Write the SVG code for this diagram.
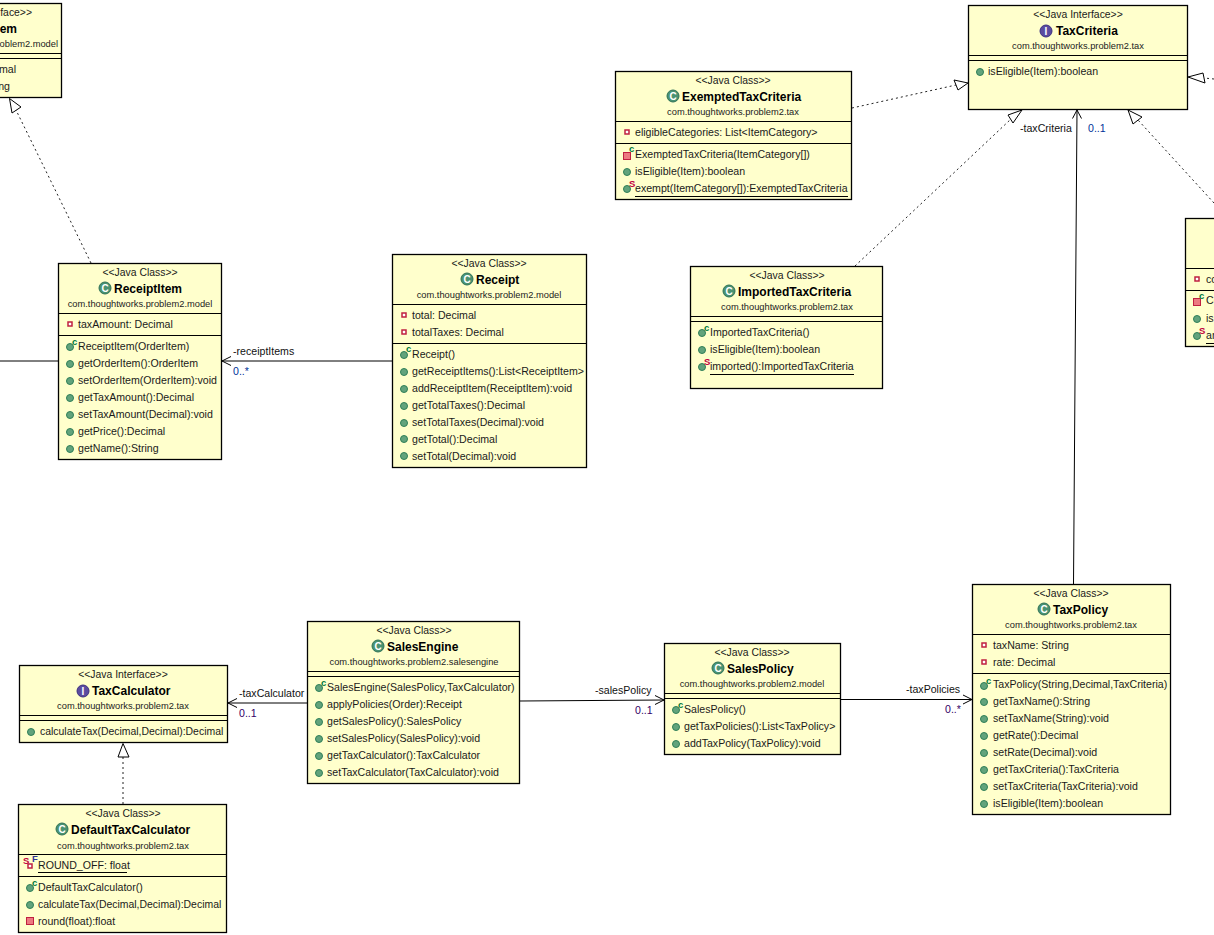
<svg xmlns="http://www.w3.org/2000/svg" width="1214" height="935" viewBox="0 0 1214 935">
<style>
text{font-family:"Liberation Sans",Arial,sans-serif;font-size:10.6px;fill:#1a1a1a}
.box{fill:#ffffcc;stroke:#000;stroke-width:1.3}
.sep{stroke:#000;stroke-width:1;fill:none}
.st{text-anchor:middle;font-size:10.4px}
.nm{font-weight:bold;font-size:12px;fill:#000}
.pk{text-anchor:middle;font-size:9.3px;fill:#222}
.e{text-anchor:end}
.n{font-size:10.45px}
.lb{fill:#111}
.ml{fill:#003399}
.mm{fill:#330066}
.sc{font-size:9.5px;font-weight:bold;fill:#007a3d}
.ss{font-size:9.5px;font-weight:bold;fill:#c00040}
.sf{font-size:9.5px;font-weight:bold;fill:#333399}
.u{stroke:#000;stroke-width:1;fill:none}
.assoc{stroke:#000;stroke-width:1;fill:none}
.dash{stroke:#222;stroke-width:1;stroke-dasharray:2 3;fill:none}
.tri{stroke:#000;stroke-width:1;fill:#fff}
.cl{fill:#4a9272;stroke:#2f7257;stroke-width:1}
.ic{fill:#5b4ba0;stroke:#3d3080;stroke-width:1}
.il{font-size:10px;font-weight:bold;fill:#fff;text-anchor:middle}
.pub{fill:#62a37c;stroke:#2f7f58;stroke-width:1}
.prv{fill:#ec7a80;stroke:#c02040;stroke-width:1}
.pf{fill:#fff;stroke:#c02040;stroke-width:1.5}
</style>
<defs>
<circle id="m" class="pub" r="3.5"/>
<rect id="pm" class="prv" x="-3.5" y="-3.5" width="7" height="7"/>
<rect id="pa" class="pf" x="-2" y="-2" width="4" height="4"/>
</defs>

<g id="connectors">
<path class="dash" d="M91 263L16 110"/><path class="tri" d="M9.500 98.500L21 107L12 113Z"/>
<path class="dash" d="M852 108L956 85"/><path class="tri" d="M968 83L954 80L958 90Z"/>
<path class="dash" d="M855 266L1011 119"/><path class="tri" d="M1022 110L1008 115L1013 123Z"/>
<path class="dash" d="M1214 203L1138 120"/><path class="tri" d="M1128 110L1142 117L1133 124Z"/>
<path class="dash" d="M1214 79L1204 78"/><path class="tri" d="M1188 77L1203 73L1205 83Z"/>
<path class="dash" d="M123 804V757"/><path class="tri" d="M123 743.500L118 757H129Z"/>
<path class="assoc" d="M392 361H222M231 356.500L222 361L231 365.500"/>
<path class="assoc" d="M0 361H58"/>
<path class="assoc" d="M1073.500 584L1077 110M1072.500 118.500L1077 110L1081.500 118.500"/>
<path class="assoc" d="M307 703H228M237 698.500L228 703L237 707.500"/>
<path class="assoc" d="M520 701L664 700M655 695.500L664 700L655 704.500"/>
<path class="assoc" d="M841 699.500H972M963 695L972 699.500L963 704"/>
<text class="lb" x="233" y="355">-receiptItems</text><text class="ml" x="233" y="375">0..*</text>
<text class="lb" x="1020" y="132">-taxCriteria</text><text class="ml" x="1088" y="132">0..1</text>
<text class="lb" x="239" y="697">-taxCalculator</text><text class="mm" x="239" y="717">0..1</text>
<text class="lb" x="595" y="694">-salesPolicy</text><text class="mm" x="635" y="714">0..1</text>
<text class="lb" x="906" y="693">-taxPolicies</text><text class="mm" x="945" y="713">0..*</text>
</g>

<g id="Item">
<rect class="box" x="-20" y="3.500" width="81.500" height="94"/>
<path class="sep" d="M0 53.500H61M0 58.500H61"/>
<text class="st e" x="32" y="16">face&gt;&gt;</text>
<text class="nm e" x="17" y="33">em</text>
<text class="pk e" x="58" y="47">oblem2.model</text>
<text class="e" x="16" y="73">mal</text>
<text class="e" x="10" y="90">ng</text>
</g>

<g id="ReceiptItem">
<rect class="box" x="58.500" y="263.500" width="163" height="196"/>
<path class="sep" d="M58 313.500H221M58 335.500H221"/>
<text class="st" x="140" y="276">&lt;&lt;Java Class&gt;&gt;</text>
<circle class="cl" cx="105" cy="288" r="6"/><text class="il" x="105" y="292">C</text>
<text class="nm" x="114" y="293">ReceiptItem</text>
<text class="pk" x="140" y="307">com.thoughtworks.problem2.model</text>
<use href="#pa" x="70" y="324"/><text x="78" y="328">taxAmount: Decimal</text>
<use href="#m" x="70" y="347"/><text class="sc" x="72" y="345">c</text><text x="78" y="350">ReceiptItem(OrderItem)</text>
<use href="#m" x="70" y="364"/><text x="78" y="367">getOrderItem():OrderItem</text>
<use href="#m" x="70" y="381"/><text x="78" y="384">setOrderItem(OrderItem):void</text>
<use href="#m" x="70" y="398"/><text x="78" y="401">getTaxAmount():Decimal</text>
<use href="#m" x="70" y="415"/><text x="78" y="418">setTaxAmount(Decimal):void</text>
<use href="#m" x="70" y="432"/><text x="78" y="435">getPrice():Decimal</text>
<use href="#m" x="70" y="449"/><text x="78" y="452">getName():String</text>
</g>

<g id="Receipt">
<rect class="box" x="392.500" y="254.500" width="194" height="213"/>
<path class="sep" d="M392 304.500H586M392 343.500H586"/>
<text class="st" x="489" y="267">&lt;&lt;Java Class&gt;&gt;</text>
<circle class="cl" cx="467" cy="279" r="6"/><text class="il" x="467" y="283">C</text>
<text class="nm" x="476" y="284">Receipt</text>
<text class="pk" x="489" y="298">com.thoughtworks.problem2.model</text>
<use href="#pa" x="404" y="315"/><text x="412" y="319">total: Decimal</text>
<use href="#pa" x="404" y="332"/><text x="412" y="336">totalTaxes: Decimal</text>
<use href="#m" x="404" y="355"/><text class="sc" x="406" y="352">c</text><text x="412" y="358">Receipt()</text>
<use href="#m" x="404" y="372"/><text x="412" y="375">getReceiptItems():List&lt;ReceiptItem&gt;</text>
<use href="#m" x="404" y="389"/><text x="412" y="392">addReceiptItem(ReceiptItem):void</text>
<use href="#m" x="404" y="406"/><text x="412" y="409">getTotalTaxes():Decimal</text>
<use href="#m" x="404" y="423"/><text x="412" y="426">setTotalTaxes(Decimal):void</text>
<use href="#m" x="404" y="439"/><text x="412" y="443">getTotal():Decimal</text>
<use href="#m" x="404" y="456"/><text x="412" y="460">setTotal(Decimal):void</text>
</g>

<g id="ExemptedTaxCriteria">
<rect class="box" x="615.500" y="71.500" width="236" height="128"/>
<path class="sep" d="M615 121.500H851M615 143.500H851"/>
<text class="st" x="733" y="84">&lt;&lt;Java Class&gt;&gt;</text>
<circle class="cl" cx="673" cy="96" r="6"/><text class="il" x="673" y="100">C</text>
<text class="nm" x="682" y="101">ExemptedTaxCriteria</text>
<text class="pk" x="733" y="115">com.thoughtworks.problem2.tax</text>
<use href="#pa" x="627" y="132"/><text x="635" y="136">eligibleCategories: List&lt;ItemCategory&gt;</text>
<use href="#pm" x="627" y="156"/><text class="sc" x="629" y="152">c</text><text x="635" y="158">ExemptedTaxCriteria(ItemCategory[])</text>
<use href="#m" x="627" y="172"/><text x="635" y="175">isEligible(Item):boolean</text>
<use href="#m" x="627" y="189"/><text class="ss" x="629" y="187">S</text><text x="635" y="192">exempt(ItemCategory[]):ExemptedTaxCriteria</text>
<path class="u" d="M635 196.500H848"/>
</g>

<g id="TaxCriteria">
<rect class="box" x="968.500" y="5.500" width="219" height="104"/>
<path class="sep" d="M968 55.500H1187M968 60.500H1187"/>
<text class="st" x="1078" y="18">&lt;&lt;Java Interface&gt;&gt;</text>
<circle class="ic" cx="1046" cy="31" r="6"/><text class="il" x="1046" y="35">I</text>
<text class="nm" x="1056" y="35">TaxCriteria</text>
<text class="pk" x="1078" y="49">com.thoughtworks.problem2.tax</text>
<use href="#m" x="980" y="72"/><text x="988" y="75">isEligible(Item):boolean</text>
</g>

<g id="ImportedTaxCriteria">
<rect class="box" x="690.500" y="266.500" width="192" height="122"/>
<path class="sep" d="M690 316.500H882M690 321.500H882"/>
<text class="st" x="787" y="279">&lt;&lt;Java Class&gt;&gt;</text>
<circle class="cl" cx="729" cy="291" r="6"/><text class="il" x="729" y="295">C</text>
<text class="nm" x="738" y="296">ImportedTaxCriteria</text>
<text class="pk" x="787" y="310">com.thoughtworks.problem2.tax</text>
<use href="#m" x="702" y="333"/><text class="sc" x="704" y="331">c</text><text x="710" y="336">ImportedTaxCriteria()</text>
<use href="#m" x="702" y="350"/><text x="710" y="353">isEligible(Item):boolean</text>
<use href="#m" x="702" y="367"/><text class="ss" x="704" y="365">S</text><text x="710" y="370">imported():ImportedTaxCriteria</text>
<path class="u" d="M710 374.500H854"/>
</g>

<g id="CutCriteria">
<rect class="box" x="1185.500" y="218.500" width="40" height="128"/>
<path class="sep" d="M1185 268.500H1214M1185 290.500H1214"/>
<use href="#pa" x="1197" y="279"/><text x="1206" y="283">co</text>
<use href="#pm" x="1197" y="302"/><text class="sc" x="1199" y="299">c</text><text x="1206" y="304">Co</text>
<use href="#m" x="1197" y="319"/><text x="1206" y="322">is</text>
<use href="#m" x="1197" y="336"/><text class="ss" x="1199" y="334">S</text><text x="1206" y="339">ar</text>
<path class="u" d="M1206 343.500H1214"/>
</g>

<g id="TaxPolicy">
<rect class="box" x="972.500" y="584.500" width="198" height="230"/>
<path class="sep" d="M972 634.500H1170M972 673.500H1170"/>
<text class="st" x="1071" y="597">&lt;&lt;Java Class&gt;&gt;</text>
<circle class="cl" cx="1044" cy="609" r="6"/><text class="il" x="1044" y="613">C</text>
<text class="nm" x="1053" y="614">TaxPolicy</text>
<text class="pk" x="1071" y="628">com.thoughtworks.problem2.tax</text>
<use href="#pa" x="984" y="645"/><text x="993" y="649">taxName: String</text>
<use href="#pa" x="984" y="662"/><text x="993" y="666">rate: Decimal</text>
<use href="#m" x="984" y="686"/><text class="sc" x="986" y="684">c</text><text x="993" y="688">TaxPolicy(String,Decimal,TaxCriteria)</text>
<use href="#m" x="984" y="702"/><text x="993" y="705">getTaxName():String</text>
<use href="#m" x="984" y="719"/><text x="993" y="722">setTaxName(String):void</text>
<use href="#m" x="984" y="736"/><text x="993" y="739">getRate():Decimal</text>
<use href="#m" x="984" y="753"/><text x="993" y="756">setRate(Decimal):void</text>
<use href="#m" x="984" y="770"/><text x="993" y="773">getTaxCriteria():TaxCriteria</text>
<use href="#m" x="984" y="787"/><text x="993" y="790">setTaxCriteria(TaxCriteria):void</text>
<use href="#m" x="984" y="804"/><text x="993" y="807">isEligible(Item):boolean</text>
</g>

<g id="SalesEngine">
<rect class="box" x="307.500" y="621.500" width="212" height="162"/>
<path class="sep" d="M307 671.500H519M307 676.500H519"/>
<text class="st" x="414" y="634">&lt;&lt;Java Class&gt;&gt;</text>
<circle class="cl" cx="378" cy="646" r="6"/><text class="il" x="378" y="650">C</text>
<text class="nm" x="387" y="651">SalesEngine</text>
<text class="pk" x="414" y="665">com.thoughtworks.problem2.salesengine</text>
<use href="#m" x="319" y="688"/><text class="sc" x="321" y="686">c</text><text x="327" y="691">SalesEngine(SalesPolicy,TaxCalculator)</text>
<use href="#m" x="319" y="705"/><text x="327" y="708">applyPolicies(Order):Receipt</text>
<use href="#m" x="319" y="722"/><text x="327" y="725">getSalesPolicy():SalesPolicy</text>
<use href="#m" x="319" y="739"/><text x="327" y="742">setSalesPolicy(SalesPolicy):void</text>
<use href="#m" x="319" y="756"/><text x="327" y="759">getTaxCalculator():TaxCalculator</text>
<use href="#m" x="319" y="773"/><text x="327" y="776">setTaxCalculator(TaxCalculator):void</text>
</g>

<g id="SalesPolicy">
<rect class="box" x="664.500" y="643.500" width="176" height="111"/>
<path class="sep" d="M664 693.500H840M664 698.500H840"/>
<text class="st" x="752" y="656">&lt;&lt;Java Class&gt;&gt;</text>
<circle class="cl" cx="718" cy="668" r="6"/><text class="il" x="718" y="672">C</text>
<text class="nm" x="727" y="673">SalesPolicy</text>
<text class="pk" x="752" y="687">com.thoughtworks.problem2.model</text>
<use href="#m" x="676" y="710"/><text class="sc" x="678" y="708">c</text><text x="684" y="713">SalesPolicy()</text>
<use href="#m" x="676" y="727"/><text x="684" y="730">getTaxPolicies():List&lt;TaxPolicy&gt;</text>
<use href="#m" x="676" y="744"/><text x="684" y="747">addTaxPolicy(TaxPolicy):void</text>
</g>

<g id="TaxCalculator">
<rect class="box" x="19.500" y="665.500" width="208" height="77"/>
<path class="sep" d="M19 715.500H227M19 720.500H227"/>
<text class="st" x="123" y="678">&lt;&lt;Java Interface&gt;&gt;</text>
<circle class="ic" cx="83" cy="691" r="6"/><text class="il" x="83" y="695">I</text>
<text class="nm" x="92" y="695">TaxCalculator</text>
<text class="pk" x="123" y="709">com.thoughtworks.problem2.tax</text>
<use href="#m" x="31" y="732"/><text class="n" x="40" y="735">calculateTax(Decimal,Decimal):Decimal</text>
</g>

<g id="DefaultTaxCalculator">
<rect class="box" x="18.500" y="804.500" width="208" height="128"/>
<path class="sep" d="M18 854.500H226M18 876.500H226"/>
<text class="st" x="123" y="817">&lt;&lt;Java Class&gt;&gt;</text>
<circle class="cl" cx="62" cy="829" r="6"/><text class="il" x="62" y="833">C</text>
<text class="nm" x="71" y="834">DefaultTaxCalculator</text>
<text class="pk" x="123" y="849">com.thoughtworks.problem2.tax</text>
<use href="#pa" x="30" y="866"/><text class="ss" x="23" y="864">S</text><text class="sf" x="32" y="862">F</text><text x="38" y="869">ROUND_OFF: float</text>
<path class="u" d="M38 872.500H127"/>
<use href="#m" x="30" y="888"/><text class="sc" x="32" y="886">c</text><text x="38" y="891">DefaultTaxCalculator()</text>
<use href="#m" x="30" y="905"/><text class="n" x="38" y="908">calculateTax(Decimal,Decimal):Decimal</text>
<use href="#pm" x="30" y="921"/><text x="38" y="925">round(float):float</text>
</g>
</svg>
